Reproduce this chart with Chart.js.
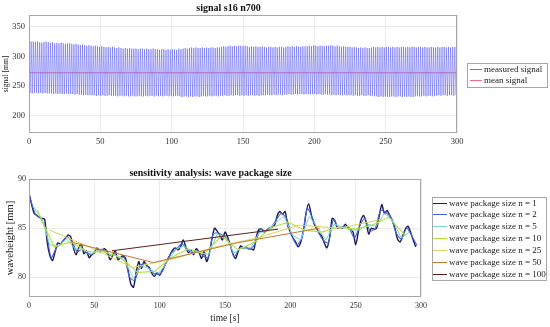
<!DOCTYPE html>
<html>
<head>
<meta charset="utf-8">
<script src="https://cdn.jsdelivr.net/npm/chart.js@4.4.1/dist/chart.umd.min.js"></script>
<style>
  body { margin: 0; background: #fff; }
  #wrap { position: relative; width: 550px; height: 327px; }
  canvas { position: absolute; left: 0; }
</style>
</head>
<body>
<div id="wrap">
  <canvas id="signalChart" width="550" height="150" style="top:0"></canvas>
  <canvas id="waveChart" width="550" height="177" style="top:150px"></canvas>
</div>
<script>
// ---- data: top chart (signal s16 n700) ----
const timeTicks = [0, 50, 100, 150, 200, 250, 300];
const signalTicks = [200, 250, 300, 350];
const meanSignal = 272;
const wavePeriod = 1.5; // s, one crest and one trough per wave
const signalCrests = [
  324,325,325,324,325,324,323,324,325,324,
  323,324,322,323,322,323,322,321,322,322,
  321,320,321,320,319,320,319,318,319,318,
  317,318,317,316,317,316,315,316,315,316,
  315,314,315,314,313,314,313,314,313,313,
  313,312,313,313,312,313,312,312,313,312,
  312,311,312,312,311,312,311,312,312,311,
  313,312,313,314,313,314,315,314,315,314,
  314,315,314,315,314,315,315,314,315,315,
  316,317,316,317,318,317,318,317,318,318,
  317,318,317,316,317,316,317,316,316,317,
  316,315,316,316,315,316,315,316,316,315,
  316,317,316,317,316,317,317,316,317,317,
  317,318,317,318,318,317,318,318,317,318,
  318,319,318,317,318,317,316,317,316,316,
  316,315,316,315,314,315,314,315,314,314,
  315,316,315,316,315,316,315,316,316,315,
  316,315,316,315,316,316,315,316,315,316,
  316,315,316,316,315,316,315,315,316,315,
  315,316,315,316,316,315,316,315,316,316
];
const signalTroughs = [
  238,237,238,238,237,238,237,238,237,237,
  237,236,237,236,237,236,236,237,236,236,
  236,235,236,235,235,234,235,234,234,234,
  234,233,234,233,234,233,233,234,233,233,
  233,232,233,233,232,233,232,232,233,232,
  232,233,232,232,233,232,233,233,232,233,
  232,233,232,233,233,232,233,232,233,233,
  232,231,232,232,231,232,231,232,232,231,
  232,233,232,232,233,232,233,233,232,233,
  233,234,233,233,234,233,234,234,233,234,
  233,234,233,234,234,233,234,233,234,234,
  234,235,234,234,235,234,235,235,234,235,
  235,236,235,235,236,235,236,236,235,236,
  236,235,236,236,235,236,235,235,236,235,
  235,234,235,234,235,234,234,235,234,234,
  234,233,234,233,233,234,233,233,234,233,
  233,232,232,231,232,231,232,231,231,232,
  232,231,232,232,231,232,231,232,231,231,
  232,233,232,232,233,232,233,233,232,233,
  233,234,233,234,234,233,234,234,233,234
];

// ---- data: bottom chart (sensitivity analysis) ----
const waveTicks = [80, 85, 90];
const packageLabels = [
  'wave package size n = 1', 'wave package size n = 2', 'wave package size n = 5',
  'wave package size n = 10', 'wave package size n = 25', 'wave package size n = 50',
  'wave package size n = 100'
];
const n1Start = 0, n1Step = 2;
const n1Values = [
  88.6,87.4,86.5,86.3,86.1,86.0,85.9,83.5,82.2,81.7,
  82.6,83.5,83.4,83.7,84.0,84.3,84.1,83.0,82.3,83.0,
  83.4,82.4,82.7,82.0,82.3,82.5,83.0,82.6,82.8,82.9,
  82.6,81.8,82.2,82.7,81.8,82.0,82.2,81.9,80.6,79.3,
  79.0,80.5,81.6,80.9,81.6,81.2,81.0,80.4,80.1,80.5,
  80.2,80.7,81.2,81.8,82.3,82.8,83.0,82.8,83.1,83.8,
  83.1,82.5,82.8,82.3,82.9,82.6,81.9,82.6,81.6,82.4,
  83.9,85.0,84.7,84.3,83.8,84.6,84.1,83.3,82.4,81.9,
  82.6,83.2,83.0,83.1,82.9,82.9,82.8,84.1,84.9,84.9,
  84.6,84.8,85.0,85.1,85.3,86.3,86.7,86.4,86.7,85.3,
  84.6,84.0,83.6,83.1,83.6,84.7,86.5,87.5,86.4,85.5,
  85.0,84.5,84.2,83.5,83.0,84.0,86.0,85.8,85.0,85.1,
  85.0,85.4,85.1,84.9,84.6,83.3,84.6,85.8,86.3,85.6,
  84.4,85.0,84.9,85.0,86.2,87.4,86.5,86.8,86.3,85.8,
  85.0,83.9,83.6,84.2,84.9,85.2,84.6,83.8,83.1
];
const n2Start = 1, n2Step = 4;
const n2Values = [
  88.0,86.4,86.0,84.8,82.0,83.0,83.5,84.1,83.6,82.6,
  82.9,82.4,82.4,82.8,82.8,82.2,82.4,81.9,82.0,80.0,
  79.7,81.2,81.4,80.7,80.3,80.4,81.5,82.5,82.9,83.4,
  82.8,82.5,82.7,82.2,82.0,84.4,84.5,84.2,83.7,82.1,
  82.9,83.0,82.9,83.4,84.9,84.7,85.0,85.8,86.5,86.0,
  84.3,83.3,84.1,87.0,86.0,84.7,83.8,83.5,85.9,85.0,
  85.2,85.0,84.0,85.2,86.0,84.7,85.0,86.8,86.6,86.1,
  84.5,83.9,85.0,84.2,83.2
];
const n5Start = 3.2, n5Step = 6.4;
const n5Values = [
  87.2,86.0,83.3,83.2,83.9,82.9,82.8,82.4,82.8,82.4,
  82.2,81.6,79.9,81.2,80.8,80.4,81.5,82.8,83.2,82.6,
  82.5,82.3,84.4,84.1,82.5,83.0,83.0,84.5,84.8,85.6,
  86.2,84.3,83.8,86.2,85.1,83.8,85.4,85.1,84.8,84.8,
  85.4,85.2,86.5,85.8,84.0,84.6
];
const n10Start = 6.4, n10Step = 12.8;
const n10Values = [
  86.8,83.1,83.6,82.6,82.6,82.0,80.5,80.6,82.0,82.9,
  82.4,84.2,82.8,83.6,85.1,85.6,84.8,84.6,85.1,84.9,
  85.3,86.1,84.3
];
const n25Times = [15.9, 47.6, 79.4, 111.1, 142.9, 174.6, 206.4, 238.1, 269.9];
const n25Values = [84.8, 83.0, 81.0, 81.9, 83.1, 84.0, 85.3, 85.0, 85.9];
const n50Times = [31.8, 95.3, 158.8, 222.3];
const n50Values = [83.6, 81.5, 83.5, 85.0];
const n100Times = [63.5, 190.5];
const n100Values = [82.7, 84.9];

const packageColors = ['#1c1a55', '#4763d6', '#7ad6cf', '#b4e23c', '#dcd35a', '#c4782e', '#5c1f1a'];

// ---- helpers ----
function stepped(start, step, values) {
  return values.map((v, i) => ({ x: start + i * step, y: v }));
}
function paired(times, values) {
  return values.map((v, i) => ({ x: times[i], y: v }));
}

const serif = '"Liberation Serif", "DejaVu Serif", serif';

// box round the plot area
const frame = {
  id: 'frame',
  afterDatasetsDraw(chart) {
    const a = chart.chartArea, ctx = chart.ctx;
    ctx.save();
    ctx.strokeStyle = '#a6a6a6';
    ctx.lineWidth = 1;
    ctx.strokeRect(Math.round(a.left) + 0.5, Math.round(a.top) + 0.5,
      Math.round(a.right - a.left) - 1, Math.round(a.bottom - a.top) - 1);
    ctx.restore();
  }
};

// legend in a box, matlab style
const boxLegend = {
  id: 'boxLegend',
  afterDraw(chart, args, o) {
    const ctx = chart.ctx;
    ctx.save();
    ctx.fillStyle = '#fff';
    ctx.fillRect(o.x, o.y, o.w, o.h);
    ctx.strokeStyle = '#a6a6a6';
    ctx.lineWidth = 1;
    ctx.strokeRect(o.x + 0.5, o.y + 0.5, o.w, o.h);
    ctx.font = o.font;
    ctx.textBaseline = 'middle';
    chart.data.datasets.forEach((ds, i) => {
      const y = Math.round(o.y + o.first + i * o.row) + 0.5;
      ctx.strokeStyle = ds.legendColor || ds.borderColor;
      ctx.lineWidth = 1;
      ctx.beginPath();
      ctx.moveTo(o.x + o.lineFrom, y);
      ctx.lineTo(o.x + o.lineFrom + o.line, y);
      ctx.stroke();
      ctx.fillStyle = '#222';
      ctx.fillText(ds.label, o.x + o.textAt, y);
    });
    ctx.restore();
  }
};

function xAxis(fontSize, height, title) {
  return {
    type: 'linear', min: 0, max: 300,
    afterBuildTicks: s => { s.ticks = timeTicks.map(v => ({ value: v })); },
    afterFit: s => { s.height = height; },
    grid: { color: '#ebebeb', drawTicks: false },
    border: { display: false },
    ticks: { font: { family: serif, size: fontSize }, color: '#333', padding: 4, maxRotation: 0 },
    title: title
  };
}

// ---- top chart ----
const signalPoints = [];
signalCrests.forEach((c, i) => {
  signalPoints.push({ x: i * wavePeriod, y: c });
  signalPoints.push({ x: (i + 0.5) * wavePeriod, y: signalTroughs[i] });
});

new Chart(document.getElementById('signalChart'), {
  type: 'line',
  data: {
    datasets: [
      { label: 'measured signal', data: signalPoints, borderColor: 'rgba(60,60,240,0.55)',
        legendColor: '#6a6af0', borderWidth: 0.8, pointRadius: 0, tension: 0 },
      { label: 'mean signal', data: [{ x: 0, y: meanSignal }, { x: 300, y: meanSignal }],
        borderColor: '#f06a8a', borderWidth: 0.8, pointRadius: 0 }
    ]
  },
  options: {
    responsive: false,
    animation: false,
    layout: { padding: { left: 0, right: 93, top: 0, bottom: 0 } },
    plugins: {
      legend: { display: false },
      tooltip: { enabled: false },
      title: { display: true, text: 'signal s16 n700', color: '#111',
        font: { family: serif, size: 10, weight: 'bold' }, padding: { top: 2, bottom: 1 } },
      boxLegend: { x: 467, y: 63, w: 80, h: 24, first: 6, row: 11, lineFrom: 3, line: 12, textAt: 17,
        font: '9px ' + serif }
    },
    scales: {
      x: xAxis(8.5, 17, { display: false }),
      y: {
        min: 170, max: 370,
        afterBuildTicks: s => { s.ticks = signalTicks.map(v => ({ value: v })); },
        afterFit: s => { s.width = 29; },
        grid: { color: '#ebebeb', drawTicks: false },
        border: { display: false },
        ticks: { font: { family: serif, size: 8.5 }, color: '#333', padding: 4 },
        title: { display: true, text: 'signal [mm]', color: '#222',
          font: { family: serif, size: 7.5 }, padding: { top: 1.5, bottom: 0 } }
      }
    }
  },
  plugins: [frame, boxLegend]
});

// ---- bottom chart ----
const packageData = [
  stepped(n1Start, n1Step, n1Values),
  stepped(n2Start, n2Step, n2Values),
  stepped(n5Start, n5Step, n5Values),
  stepped(n10Start, n10Step, n10Values),
  paired(n25Times, n25Values),
  paired(n50Times, n50Values),
  paired(n100Times, n100Values)
];
const packageWidths = [1.4, 1.1, 1, 1.1, 1, 1, 1];

new Chart(document.getElementById('waveChart'), {
  type: 'line',
  data: {
    datasets: packageData.map((d, i) => ({
      label: packageLabels[i],
      data: d,
      borderColor: packageColors[i],
      borderWidth: packageWidths[i],
      pointRadius: 0,
      tension: i < 2 ? 0.25 : 0,
      order: packageData.length - i
    }))
  },
  options: {
    responsive: false,
    animation: false,
    layout: { padding: { left: 0, right: 129, top: 0, bottom: 0 } },
    plugins: {
      legend: { display: false },
      tooltip: { enabled: false },
      title: { display: true, text: 'sensitivity analysis: wave package size', color: '#111',
        font: { family: serif, size: 10, weight: 'bold' }, padding: { top: 17, bottom: 0 } },
      boxLegend: { x: 432, y: 47, w: 114, h: 83, first: 5.5, row: 11.9, lineFrom: 1, line: 14, textAt: 17,
        font: '9px ' + serif }
    },
    scales: {
      x: xAxis(8, 30, { display: true, text: 'time [s]', color: '#222',
        font: { family: serif, size: 9.5 }, padding: { top: 0, bottom: 3 } }),
      y: {
        min: 78, max: 90,
        afterBuildTicks: s => { s.ticks = waveTicks.map(v => ({ value: v })); },
        afterFit: s => { s.width = 29; },
        grid: { color: '#ebebeb', drawTicks: false },
        border: { display: false },
        ticks: { font: { family: serif, size: 8 }, color: '#333', padding: 3 },
        title: { display: true, text: 'waveheight [mm]', color: '#222',
          font: { family: serif, size: 10.5 }, padding: { top: 4, bottom: 0 } }
      }
    }
  },
  plugins: [frame, boxLegend]
});
</script>
</body>
</html>
